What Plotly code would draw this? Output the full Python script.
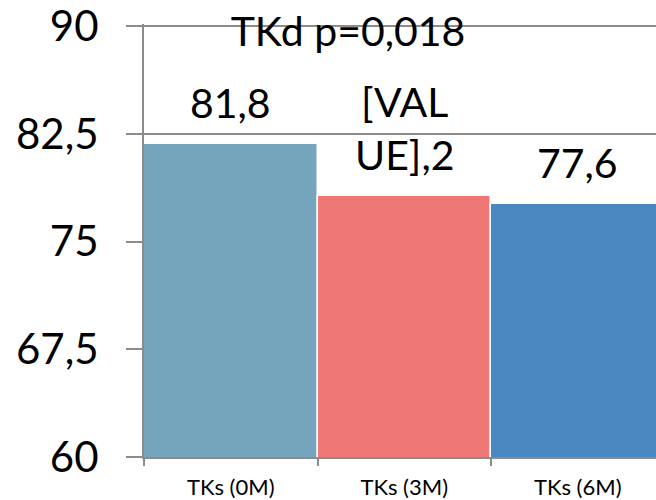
import plotly.graph_objects as go

# Chart data
categories = ["TKs (0M)", "TKs (3M)", "TKs (6M)"]
values = [81.8, 78.2, 77.6]
value_labels = ["81,8", "[VAL<br>UE],2", "77,6"]
bar_colors = ["#75A4BD", "#EF7876", "#4A87C0"]
y_ticks = [60, 67.5, 75, 82.5, 90]
y_tick_labels = ["60", "67,5", "75", "82,5", "90"]
title_text = "TKd p=0,018"

FONT = "Lato"
GRAY = "#8C8C8C"

fig = go.Figure()
fig.add_trace(go.Bar(
    x=categories,
    y=values,
    marker=dict(color=bar_colors, line=dict(color="white", width=1.5)),
    width=1,
    hoverinfo="skip",
))

# value labels above each bar
for cat, val, lab in zip(categories, values, value_labels):
    fig.add_annotation(
        x=cat, y=val, text=lab, showarrow=False,
        xref="x", yref="y", yanchor="bottom", yshift=15,
        font=dict(family=FONT, size=41, color="black"),
    )

fig.update_layout(
    width=656, height=500,
    margin=dict(l=144, r=0, t=23, b=42),
    paper_bgcolor="white", plot_bgcolor="white",
    showlegend=False,
    bargap=0,
    title=dict(text=title_text, x=348 / 656, xanchor="center",
               y=1 - 32 / 500, yanchor="middle",
               font=dict(family=FONT, size=41, color="black")),
    font=dict(family=FONT, color="black"),
)

fig.update_yaxes(
    range=[59.999, 90.17],
    tickvals=y_ticks, ticktext=y_tick_labels,
    tickfont=dict(family=FONT, size=42, color="black"),
    showgrid=True, gridcolor=GRAY, gridwidth=1.5,
    showline=True, linecolor=GRAY, linewidth=2,
    ticks="outside", ticklen=16, tickcolor=GRAY, tickwidth=2,
    ticklabelstandoff=19,
    ticklabeloverflow="allow",
    zeroline=False,
)
fig.update_xaxes(
    range=[-0.5, 2.451],
    tickfont=dict(family=FONT, size=22, color="black"),
    showline=True, linecolor=GRAY, linewidth=2,
    ticks="outside", tickson="boundaries", ticklen=7,
    tickcolor=GRAY, tickwidth=2,
    ticklabelstandoff=10,
    showgrid=False, zeroline=False,
)

fig.write_html("out.html")
